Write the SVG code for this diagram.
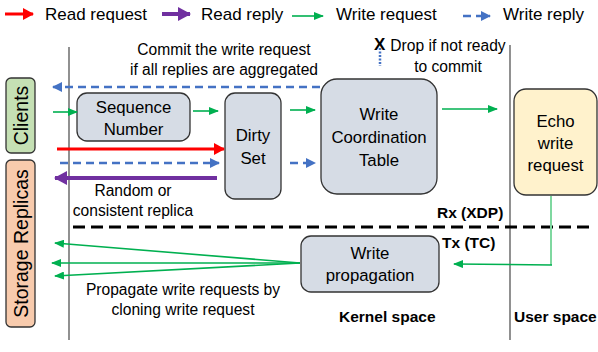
<svg xmlns="http://www.w3.org/2000/svg" width="598" height="352" viewBox="0 0 598 352">
<style>
text{font-family:"Liberation Sans",Arial,sans-serif;fill:#000;}
.t{font-size:15.6px;text-anchor:middle;}
.n{font-size:16.8px;text-anchor:middle;}
.lg{font-size:17px;}
.b{font-size:15.5px;font-weight:bold;}
.box{fill:#d6dce5;stroke:#333;stroke-width:1.3;}
.g{stroke:#00b050;stroke-width:1.6;fill:none;}
.bl{stroke:#4472c4;stroke-width:2.5;fill:none;stroke-dasharray:8,5;}
</style>
<defs>
<marker id="mg" markerWidth="10" markerHeight="8" refX="9" refY="4" orient="auto" markerUnits="userSpaceOnUse"><path d="M0,0 L10,4 L0,8 Z" fill="#00b050"/></marker>
<marker id="mb" markerWidth="10" markerHeight="10" refX="9" refY="5" orient="auto" markerUnits="userSpaceOnUse"><path d="M0,0 L10,5 L0,10 Z" fill="#4472c4"/></marker>
<marker id="mr" markerWidth="12" markerHeight="12" refX="10" refY="6" orient="auto" markerUnits="userSpaceOnUse"><path d="M0,0 L11,6 L0,12 Z" fill="#ff0000"/></marker>
<marker id="mp" markerWidth="14" markerHeight="14" refX="12" refY="7" orient="auto" markerUnits="userSpaceOnUse"><path d="M0,0 L13,7 L0,14 Z" fill="#7030a0"/></marker>
</defs>

<g id="legend">
<line x1="5" y1="14" x2="33" y2="14" stroke="#ff0000" stroke-width="3" marker-end="url(#mr)"/>
<text class="lg" x="45" y="20">Read request</text>
<line x1="162" y1="14" x2="190" y2="14" stroke="#7030a0" stroke-width="4" marker-end="url(#mp)"/>
<text class="lg" x="201" y="20">Read reply</text>
<line x1="292" y1="16" x2="323" y2="16" class="g" marker-end="url(#mg)"/>
<text class="lg" x="336" y="20">Write request</text>
<line x1="463" y1="16" x2="490" y2="16" class="bl" marker-end="url(#mb)"/>
<text class="lg" x="503" y="20">Write reply</text>
</g>

<g id="dividers">
<line x1="69" y1="47" x2="69" y2="340" stroke="#555" stroke-width="1.3"/>
<line x1="510" y1="45" x2="510" y2="340" stroke="#555" stroke-width="1.3"/>
<line x1="73" y1="227" x2="592" y2="227" stroke="#000" stroke-width="3" stroke-dasharray="12,6"/>
</g>

<g id="clients">
<rect x="6" y="78" width="29" height="75" rx="5" fill="#c5e0b4" stroke="#333" stroke-width="1.3"/>
<text class="t" style="font-size:19.5px" transform="translate(27.5,115.5) rotate(-90)">Clients</text>
</g>
<g id="storage-replicas">
<rect x="6" y="160" width="29" height="167" rx="5" fill="#f8cbad" stroke="#333" stroke-width="1.3"/>
<text class="t" style="font-size:19.5px" transform="translate(27.5,243.5) rotate(-90)">Storage Replicas</text>
</g>

<g id="sequence-number">
<rect class="box" x="77" y="93" width="113" height="48" rx="10"/>
<text class="n" x="133.5" y="113">Sequence</text>
<text class="n" x="133.5" y="135">Number</text>
</g>
<g id="dirty-set">
<rect class="box" x="225" y="93" width="56" height="106" rx="10"/>
<text class="n" x="253" y="141">Dirty</text>
<text class="n" x="253" y="164">Set</text>
</g>
<g id="write-coordination-table">
<rect class="box" x="321" y="79" width="116" height="115" rx="16"/>
<text class="n" x="379" y="120">Write</text>
<text class="n" x="379" y="143">Coordination</text>
<text class="n" x="379" y="166">Table</text>
</g>
<g id="echo-write-request">
<rect x="514" y="89" width="83" height="106" rx="12" fill="#fff2cc" stroke="#333" stroke-width="1.3"/>
<text class="n" x="555.5" y="127">Echo</text>
<text class="n" x="555.5" y="149">write</text>
<text class="n" x="555.5" y="171">request</text>
</g>
<g id="write-propagation">
<rect class="box" x="301" y="236" width="138" height="56" rx="10"/>
<text class="n" x="370" y="259">Write</text>
<text class="n" x="370" y="281">propagation</text>
</g>

<g id="connectors">
<line x1="320" y1="87" x2="53" y2="87" class="bl" marker-end="url(#mb)"/>
<line x1="53" y1="112" x2="77" y2="112" class="g" marker-end="url(#mg)"/>
<line x1="193" y1="111" x2="218" y2="111" class="g" marker-end="url(#mg)"/>
<line x1="290" y1="110" x2="315" y2="110" class="g" marker-end="url(#mg)"/>
<line x1="57" y1="149" x2="224" y2="149" stroke="#ff0000" stroke-width="3" marker-end="url(#mr)"/>
<line x1="60" y1="163" x2="219" y2="163" class="bl" marker-end="url(#mb)"/>
<line x1="290" y1="163" x2="315" y2="163" class="bl" marker-end="url(#mb)"/>
<line x1="217" y1="178" x2="55" y2="178" stroke="#7030a0" stroke-width="4" marker-end="url(#mp)"/>
<line x1="442" y1="109" x2="497" y2="109" class="g" marker-end="url(#mg)"/>
<line x1="380" y1="48" x2="380" y2="66" stroke="#4472c4" stroke-width="2.5" stroke-dasharray="2,1.5"/>
<polyline points="551,196 551,265" stroke="#7fd8a0" stroke-width="2" fill="none"/>
<line x1="552" y1="265" x2="454" y2="264" class="g" marker-end="url(#mg)"/>
<line x1="300" y1="263" x2="55" y2="243" class="g" marker-end="url(#mg)"/>
<line x1="300" y1="263" x2="52" y2="263" class="g" marker-end="url(#mg)"/>
<line x1="300" y1="263" x2="55" y2="276" class="g" marker-end="url(#mg)"/>
</g>

<g id="labels">
<text class="t" x="224" y="55">Commit the write request</text>
<text class="t" x="224" y="75">if all replies are aggregated</text>
<text x="374" y="50" style="font-size:17px;font-weight:bold">X</text>
<text class="t" x="448" y="51">Drop if not ready</text>
<text class="t" x="448" y="72">to commit</text>
<text class="t" x="133" y="196">Random or</text>
<text class="t" x="133" y="216">consistent replica</text>
<text class="b" x="437" y="218">Rx (XDP)</text>
<text class="b" x="442" y="248">Tx (TC)</text>
<text class="t" x="183" y="295">Propagate write requests by</text>
<text class="t" x="183" y="315">cloning write request</text>
<text class="b" x="339" y="322">Kernel space</text>
<text class="b" x="514" y="322">User space</text>
</g>
</svg>
